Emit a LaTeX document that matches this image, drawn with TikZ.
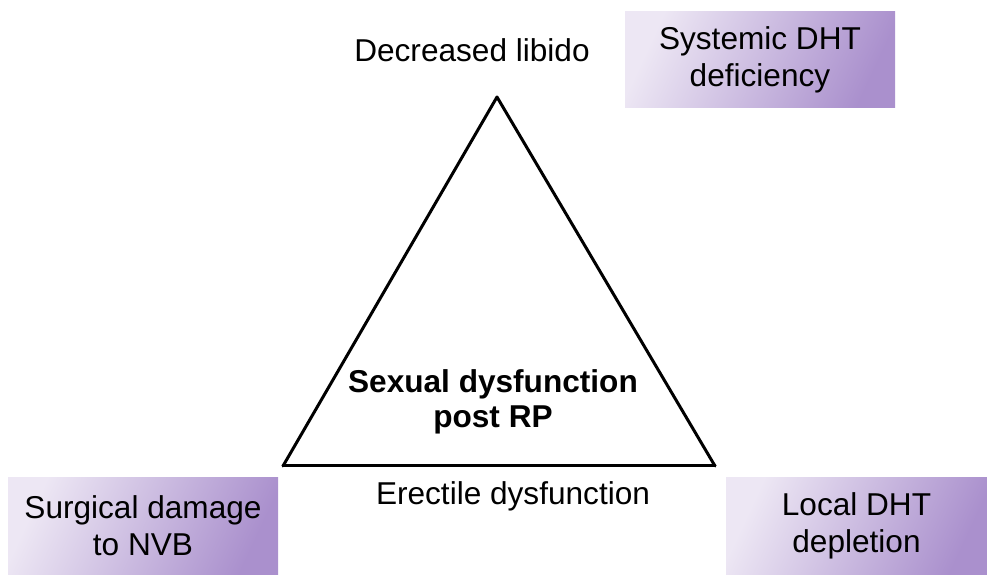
\documentclass[tikz,border=0pt]{standalone}
\usepackage{fontspec}
\setmainfont{Liberation Sans}
\usetikzlibrary{arrows}
\definecolor{lavlight}{HTML}{EDE7F4}
\definecolor{lavdark}{HTML}{AA90CD}
\tikzset{causebox/.style={top color=lavlight,bottom color=lavdark,shading angle=65,
  minimum width=135pt,minimum height=48pt,align=center,inner sep=0pt,
  font=\fontsize{15.8}{18.5}\selectfont}}
\begin{document}
\begin{tikzpicture}[line cap=round,line join=round,x=0.5pt,y=0.5pt,
  every node/.style={font=\fontsize{15.8}{18.5}\selectfont}]
\useasboundingbox (0,0) rectangle (987,574);
\coordinate (T) at (497,477);
\coordinate (L) at (283,108);
\coordinate (R) at (715,108);
\draw [line width=1.5pt] (L)-- (R);
\draw [line width=1.5pt] (R)-- (T);
\draw [line width=1.5pt] (T)-- (L);
\draw[color=black] (472,524) node (libido) {Decreased libido};
\draw[color=black] (513,78) node (erectile) {Erectile dysfunction};
\draw[color=black] (493,172) node[align=center,font=\fontsize{15.8}{17.5}\selectfont\bfseries] (sexdys) {Sexual dysfunction\\post RP};
\node[causebox] (systemic) at (760,514) {Systemic DHT\\deficiency};
\node[causebox] (surgical) at (143,48) {Surgical damage\\to NVB};
\node[causebox,minimum width=130.5pt] (local) at (856.5,48) {Local DHT\\depletion};
\end{tikzpicture}
\end{document}
